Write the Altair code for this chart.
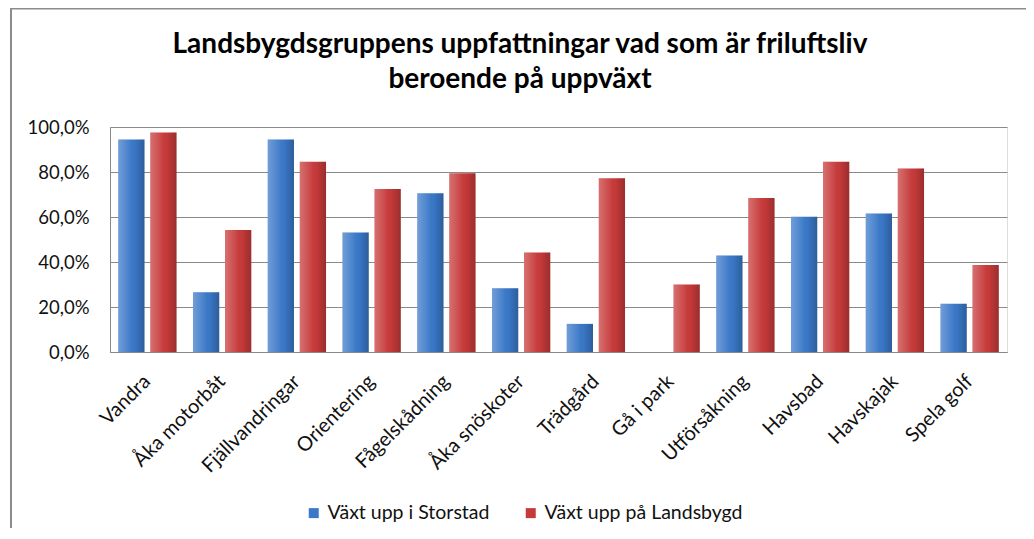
import altair as alt
import pandas as pd

categories = ["Vandra", "Åka motorbåt", "Fjällvandringar", "Orientering", "Fågelskådning",
              "Åka snöskoter", "Trädgård", "Gå i park", "Utförsåkning", "Havsbad",
              "Havskajak", "Spela golf"]
series_names = ["Växt upp i Storstad", "Växt upp på Landsbygd"]
storstad = [0.944, 0.266, 0.944, 0.531, 0.706, 0.283, 0.125, 0.0, 0.429, 0.601, 0.616, 0.214]
landsbygd = [0.976, 0.542, 0.846, 0.724, 0.794, 0.442, 0.772, 0.300, 0.685, 0.846, 0.816, 0.387]
y_ticks = [0, 0.2, 0.4, 0.6, 0.8, 1.0]
title_lines = ["Landsbygdsgruppens uppfattningar vad som är friluftsliv", "beroende på uppväxt"]
colors = ["#3A78C8", "#C73A3A"]

rows = []
for c, a, b in zip(categories, storstad, landsbygd):
    rows.append({"kategori": c, "serie": series_names[0], "andel": a})
    rows.append({"kategori": c, "serie": series_names[1], "andel": b})
df = pd.DataFrame(rows)

FONT = "Lato"

x_enc = alt.X("kategori:N", sort=categories,
              scale=alt.Scale(paddingInner=0.22, paddingOuter=0.11),
              axis=alt.Axis(title=None, labelAngle=-45, labelAlign="right", labelBaseline="middle",
                            labelPadding=26, labelFontSize=20, labelFont=FONT, labelColor="#111",
                            ticks=False, domainColor="#888", labelOverlap=False, labelBound=False,
                            labelLimit=0))
xoff_enc = alt.XOffset("serie:N", sort=series_names, scale=alt.Scale(paddingInner=0.18, paddingOuter=0))
y_enc = alt.Y("andel:Q", scale=alt.Scale(domain=[0, 1], nice=False),
              axis=alt.Axis(title=None, values=y_ticks, ticks=False, domainColor="#888",
                            gridColor="#8a8a8a", gridWidth=1, labelPadding=21,
                            labelFontSize=18.5, labelFont=FONT, labelColor="#111",
                            labelExpr="replace(format(datum.value, '.1%'), '.', ',')"))

bars = alt.Chart(df).mark_bar(strokeWidth=0).encode(
    x=x_enc, xOffset=xoff_enc, y=y_enc,
    color=alt.Color("serie:N", sort=series_names,
                    scale=alt.Scale(domain=series_names, range=colors),
                    legend=alt.Legend(title=None, orient="none", direction="horizontal",
                                      legendX=194, legendY=376, symbolType="square",
                                      symbolSize=100, symbolStrokeWidth=0,
                                      labelFontSize=19.5, labelFont=FONT, labelColor="#111",
                                      labelLimit=0, columnPadding=31, labelOffset=4))
)

shade = alt.Chart(df).mark_bar(
    color=alt.LinearGradient(
        gradient="linear", x1=0, x2=1, y1=0, y2=0,
        stops=[alt.GradientStop(color="rgba(255,255,255,0.28)", offset=0),
               alt.GradientStop(color="rgba(255,255,255,0.05)", offset=0.45),
               alt.GradientStop(color="rgba(0,0,0,0.0)", offset=0.6),
               alt.GradientStop(color="rgba(0,0,0,0.22)", offset=1)])
).encode(x=alt.X("kategori:N", sort=categories), xOffset=alt.XOffset("serie:N", sort=series_names),
         y=alt.Y("andel:Q"))

one = pd.DataFrame({"a": [0]})
frame_left = alt.Chart(one).mark_rect(color="#8c8c8c", strokeWidth=0).encode(
    x=alt.value(-100), x2=alt.value(-98), y=alt.value(-119.5), y2=alt.value(420))
frame_top = alt.Chart(one).mark_rect(color="#8c8c8c", strokeWidth=0).encode(
    x=alt.value(-100), x2=alt.value(1100), y=alt.value(-119.5), y2=alt.value(-117.5))

title_df = pd.DataFrame({"t": title_lines, "line": [0, 1]})
title1 = alt.Chart(title_df).transform_filter("datum.line == 0").mark_text(
    font=FONT, fontSize=28, fontWeight="bold", color="black", align="center", baseline="alphabetic"
).encode(text="t:N", x=alt.value(410), y=alt.value(-74))
title2 = alt.Chart(title_df).transform_filter("datum.line == 1").mark_text(
    font=FONT, fontSize=28, fontWeight="bold", color="black", align="center", baseline="alphabetic"
).encode(text="t:N", x=alt.value(410), y=alt.value(-39))

chart = alt.layer(frame_left, frame_top, bars, shade, title1, title2).properties(
    width=897, height=225,
    autosize=alt.AutoSizeParams(type="none"),
    padding={"left": 102, "top": 119, "right": 19, "bottom": 176},
).configure_view(stroke=None).configure(background="white")

chart.save("out.html", embed_options={"renderer": "svg", "actions": False})
